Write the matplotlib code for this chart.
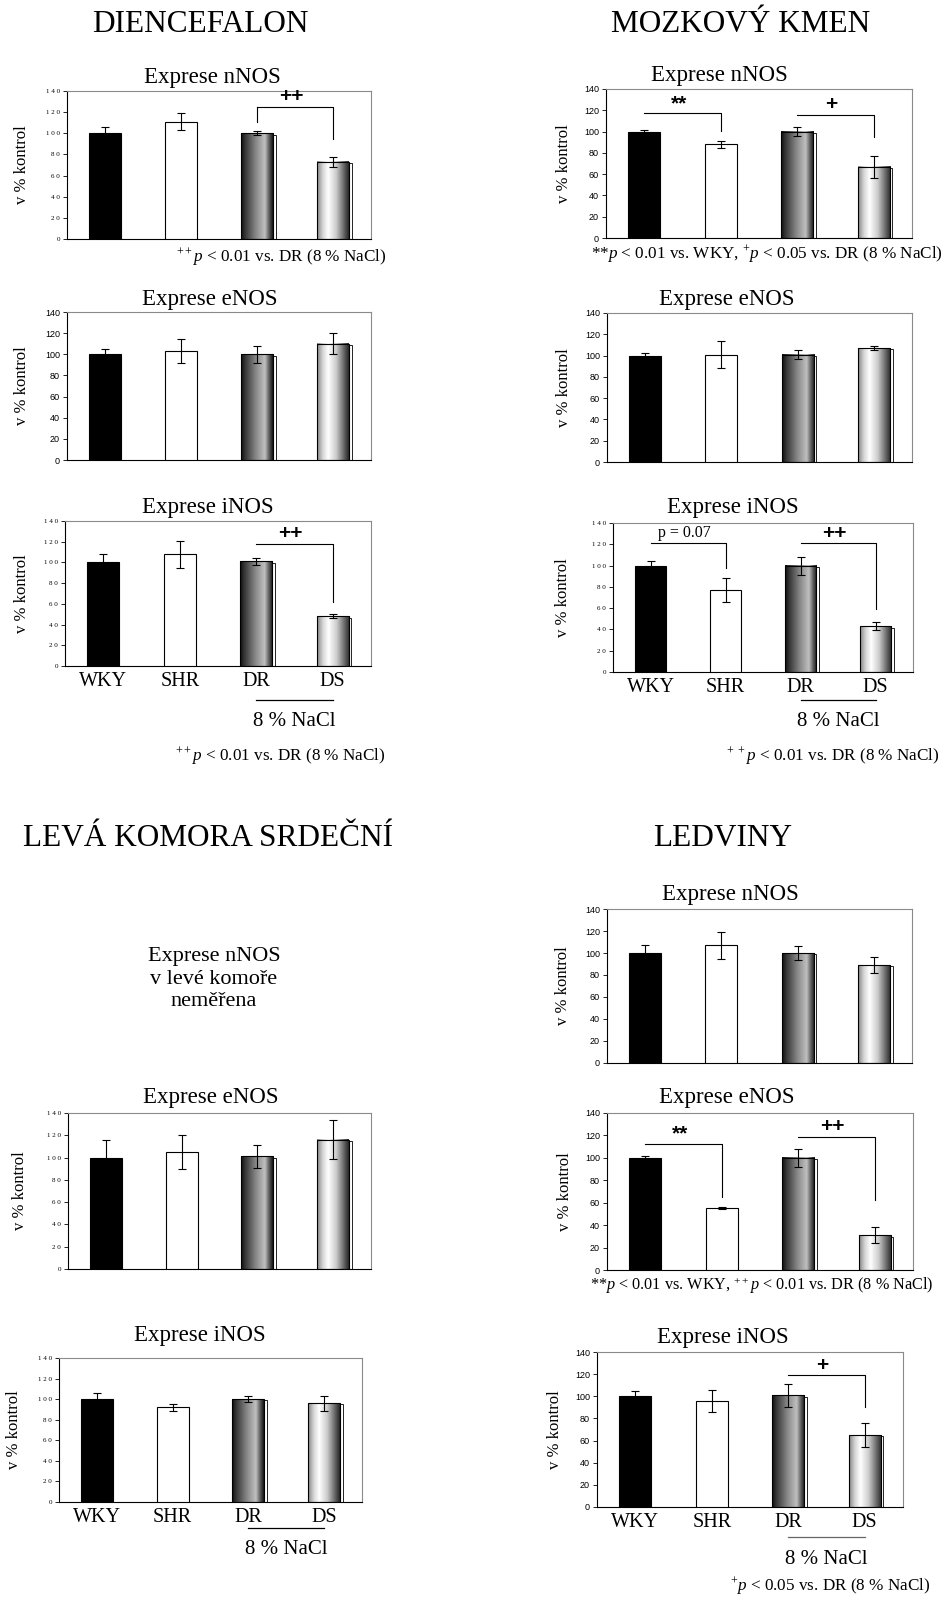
import numpy as np
import matplotlib
matplotlib.use("Agg")
import matplotlib.pyplot as plt
from matplotlib.colors import LinearSegmentedColormap
from matplotlib.transforms import offset_copy

plt.rcParams["font.family"] = "Liberation Serif"
plt.rcParams["mathtext.fontset"] = "custom"
plt.rcParams["mathtext.rm"] = "Liberation Serif"
plt.rcParams["mathtext.it"] = "Liberation Serif:italic"
plt.rcParams["mathtext.bf"] = "Liberation Serif:bold"

# ---- data (v % kontrol, mean and error) ----
groups = ["WKY", "SHR", "DR", "DS"]

dien_nnos = [100, 111, 100, 73]
dien_nnos_err = [6, 8, 2, 5]
dien_enos = [100, 103, 100, 110]
dien_enos_err = [5, 11, 8, 10]
dien_inos = [100, 108, 101, 48]
dien_inos_err = [8, 13, 3.5, 2]

mk_nnos = [100, 88, 100, 67]
mk_nnos_err = [1.5, 3, 4, 10.5]
mk_enos = [100, 101, 101, 107]
mk_enos_err = [2, 13, 4, 2]
mk_inos = [100, 77, 100, 43]
mk_inos_err = [4.5, 11, 8.5, 4]

lk_enos = [100, 105, 101, 116]
lk_enos_err = [15.5, 15.5, 10, 17.5]
lk_inos = [100, 92, 100, 96]
lk_inos_err = [6, 3.5, 3, 7.5]

led_nnos = [100, 107, 100, 89]
led_nnos_err = [7.5, 12, 6, 7]
led_enos = [100, 55.5, 100, 31]
led_enos_err = [1.5, 1, 8, 7]
led_inos = [100, 96, 101, 65]
led_inos_err = [5, 10, 10.5, 11]

# significance brackets: (from, to, level, right leg end, label, left leg end)
dien_nnos_sig = [(3, 4, 125, 95, "++", 111)]
dien_inos_sig = [(3, 4, 118, 62, "++", None)]
mk_nnos_sig = [(1, 2, 117, 101, "**", None), (3, 4, 116, 95, "+", None)]
mk_inos_sig = [(1, 2, 121, 98, "p = 0.07", None), (3, 4, 121, 59, "++", None)]
led_enos_sig = [(1, 2, 112, 65, "**", None), (3, 4, 119, 62, "++", None)]
led_inos_sig = [(3, 4, 119, 90, "+", None)]

W, H = 949, 1599
fig = plt.figure(figsize=(W / 100, H / 100), dpi=100)

dr_cmap = LinearSegmentedColormap.from_list(
    "dr", [(0, "#0d0d0d"), (0.12, "#333333"), (0.45, "#848484"),
           (0.75, "#c0c0c0"), (0.88, "#606060"), (1, "#151515")])
ds_cmap = LinearSegmentedColormap.from_list(
    "ds", [(0, "#858585"), (0.18, "#d6d6d6"), (0.35, "#ffffff"),
           (0.6, "#cccccc"), (0.85, "#646464"), (1, "#262626")])
grad = np.linspace(0, 1, 200).reshape(1, -1)


def figtext(x, y, s, **kw):
    kw.setdefault("ha", "center")
    kw.setdefault("va", "center")
    return fig.text(x / W, 1 - y / H, s, **kw)


def draw_panel(box, title, txy, ylx, means, errs, ticks, sig=(), xlabels=False, nacl=None):
    l, t, r, b = box
    ax = fig.add_axes([l / W, 1 - b / H, (r - l) / W, (b - t) / H])
    x = np.arange(1, 5)
    bars = ax.bar(x, means, width=0.42, color=["black", "white", "none", "none"],
                  edgecolor="black", linewidth=0.8, zorder=3)
    for patch, cmap in zip(bars.patches[2:], [dr_cmap, ds_cmap]):
        x0, w, h = patch.get_x(), patch.get_width(), patch.get_height()
        ax.bar(x0 + w / 2 + 0.035, h - 1.2, width=w, color="white",
               edgecolor="black", linewidth=0.6, zorder=1)
        ax.imshow(grad, cmap=cmap, extent=[x0, x0 + w, 0, h], aspect="auto",
                  zorder=2, interpolation="bilinear")
    ax.errorbar(x, means, yerr=errs, fmt="none", ecolor="black", elinewidth=0.8,
                capsize=3, capthick=0.8, zorder=4)
    ax.set_xlim(0.5, 4.5)
    ax.set_ylim(0, 140)

    yt = list(range(0, 141, 20))
    ax.set_yticks(yt)
    if ticks == "serif":
        ax.set_yticklabels([" ".join(str(v)) for v in yt], fontsize=5, family="Liberation Serif")
    else:
        ax.set_yticklabels([str(v) for v in yt], fontsize=6.5, family="Liberation Sans")
    ax.tick_params(axis="y", length=3, width=0.6, pad=2)
    ax.set_xticks(x)
    if xlabels:
        ax.set_xticklabels(groups, fontsize=14.5)
    else:
        ax.set_xticklabels([])
    ax.tick_params(axis="x", length=0, pad=4)

    for side in ["top", "right"]:
        ax.spines[side].set_color("#8a8a8a")
        ax.spines[side].set_linewidth(0.8)
    for side in ["left", "bottom"]:
        ax.spines[side].set_linewidth(0.8)

    for x1, x2, lvl, leg, lab, lleg in sig:
        ax.plot([x1, x2, x2], [lvl, lvl, leg], color="black", lw=0.8, zorder=5)
        if lleg is not None:
            ax.plot([x1, x1], [lvl, lleg], color="black", lw=0.8, zorder=5)
        if lab.startswith("p"):
            ax.text((x1 + x2) / 2 - 0.05, lvl + 2, lab, ha="center", va="bottom", fontsize=11.5)
        else:
            ax.text((x1 + x2) / 2 - 0.05, lvl + 0.5, lab, ha="center", va="bottom",
                    fontsize=15, family="Liberation Sans", fontweight="bold")

    if nacl is not None:
        line_off, text_off, lc = nacl
        tr = offset_copy(ax.get_xaxis_transform(), fig, y=-line_off, units="dots")
        ax.plot([3, 4], [0, 0], color=lc, lw=0.9, transform=tr, clip_on=False)
        tr2 = offset_copy(ax.get_xaxis_transform(), fig, y=-text_off, units="dots")
        ax.text(3.5, 0, "8 % NaCl", ha="center", va="center", fontsize=15, transform=tr2)

    figtext(txy[0], txy[1], title, fontsize=16.5)
    figtext(ylx, (t + b) / 2, "v % kontrol", fontsize=12, rotation=90)
    return ax


# section headings
figtext(200, 25, "DIENCEFALON", fontsize=22.5)
figtext(741, 25, "MOZKOVÝ KMEN", fontsize=22.5)
figtext(208, 838, "LEVÁ KOMORA SRDEČNÍ", fontsize=22.5)
figtext(723, 838, "LEDVINY", fontsize=22.5)

# diencefalon
draw_panel((67, 91, 371, 239), "Exprese nNOS", (212, 77), 22, dien_nnos, dien_nnos_err, "serif", dien_nnos_sig)
draw_panel((67, 312, 371, 460), "Exprese eNOS", (210, 299), 22, dien_enos, dien_enos_err, "sans")
draw_panel((65, 521, 371, 666), "Exprese iNOS", (208, 507), 22, dien_inos, dien_inos_err, "serif",
           dien_inos_sig, xlabels=True, nacl=(34, 55, "black"))

# mozkovy kmen
draw_panel((606, 89, 912, 238), "Exprese nNOS", (719, 76), 564, mk_nnos, mk_nnos_err, "sans", mk_nnos_sig)
draw_panel((607, 313, 912, 462), "Exprese eNOS", (727, 300), 564, mk_enos, mk_enos_err, "sans")
draw_panel((613, 523, 913, 672), "Exprese iNOS", (733, 507), 563, mk_inos, mk_inos_err, "serif",
           mk_inos_sig, xlabels=True, nacl=(28, 49, "black"))

# leva komora
figtext(214, 979, "Exprese nNOS\nv levé komoře\nneměřena", fontsize=16, linespacing=1.25)
draw_panel((68, 1113, 371, 1269), "Exprese eNOS", (211, 1098), 20, lk_enos, lk_enos_err, "serif")
draw_panel((59, 1358, 362, 1502), "Exprese iNOS", (200, 1336), 14, lk_inos, lk_inos_err, "serif",
           xlabels=True, nacl=(26, 47, "black"))

# ledviny
draw_panel((607, 909, 912, 1063), "Exprese nNOS", (730, 895), 563, led_nnos, led_nnos_err, "sans")
draw_panel((607, 1113, 913, 1270), "Exprese eNOS", (727, 1098), 565, led_enos, led_enos_err, "sans", led_enos_sig)
draw_panel((597, 1352, 903, 1507), "Exprese iNOS", (723, 1337), 555, led_inos, led_inos_err, "sans",
           led_inos_sig, xlabels=True, nacl=(30, 52, "#666666"))

# footnotes
fs = 12.3
figtext(176, 257, r"$^{++}p$ < 0.01 vs. DR (8 % NaCl)", fontsize=fs, ha="left")
figtext(591, 254, r"**$p$ < 0.01 vs. WKY, $^{+}p$ < 0.05 vs. DR (8 % NaCl)", fontsize=fs, ha="left")
figtext(175, 756, r"$^{++}p$ < 0.01 vs. DR (8 % NaCl)", fontsize=fs, ha="left")
figtext(726, 756, r"$^{+\ +}p$ < 0.01 vs. DR (8 % NaCl)", fontsize=fs, ha="left")
figtext(590, 1286, r"**$p$ < 0.01 vs. WKY, $^{++}p$ < 0.01 vs. DR (8 % NaCl)", fontsize=11.7, ha="left")
figtext(730, 1586, r"$^{+}p$ < 0.05 vs. DR (8 % NaCl)", fontsize=fs, ha="left")

fig.savefig("out.png", dpi=100)
